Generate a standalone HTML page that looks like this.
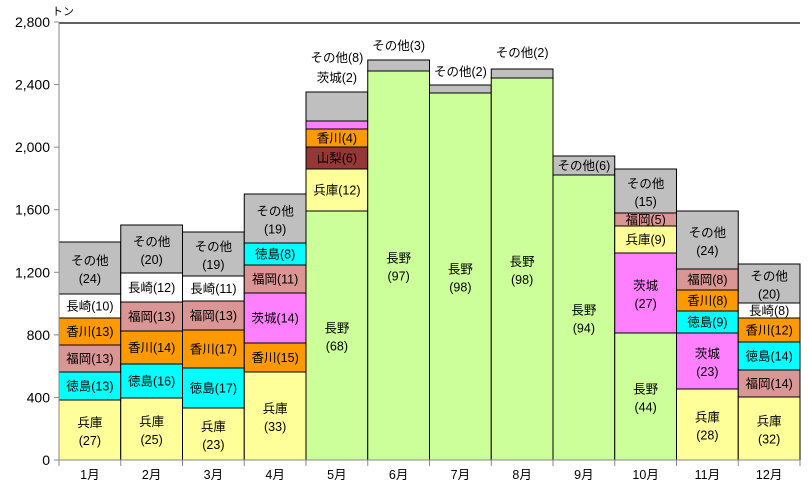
<!DOCTYPE html>
<html><head><meta charset="utf-8">
<style>
body{margin:0;background:#fff}
svg text{font-family:"Liberation Sans","Noto Sans CJK JP",sans-serif;font-size:12.5px;fill:#000}
</style></head>
<body>
<svg id="c" width="808" height="491" xmlns="http://www.w3.org/2000/svg">
<rect width="808" height="491" fill="#fff"/>
</svg>
<script>
const s=document.getElementById('c');const NS='http://www.w3.org/2000/svg';
function el(t,a,txt){const e=document.createElementNS(NS,t);for(const k in a)e.setAttribute(k,a[k]);if(txt!==undefined)e.textContent=txt;s.appendChild(e);return e;}
const C={'兵庫':'#FFFF99','徳島':'#00FFFF','福岡':'#DA9694','香川':'#FF9900','長崎':'#FFFFFF','その他':'#BFBFBF','長野':'#CCFF99','山梨':'#953735','茨城':'#FF80FF'};
const D=[
[['兵庫',27,400,2],['徳島',13,372,1],['福岡',13,345,1],['香川',13,318,1],['長崎',10,294,1],['その他',24,242,2]],
[['兵庫',25,398,2],['徳島',16,364,1],['香川',14,331,1],['福岡',13,302,1],['長崎',12,273,1],['その他',20,225,2]],
[['兵庫',23,408,2],['徳島',17,368,1],['香川',17,330,1],['福岡',13,301,1],['長崎',11,276,1],['その他',19,232,2]],
[['兵庫',33,372,2],['香川',15,343,1],['茨城',14,293,1],['福岡',11,265,1],['徳島',8,243,1],['その他',19,194,2]],
[['長野',68,211,2],['兵庫',12,169,1],['山梨',6,147,1],['香川',4,129,1],['茨城',2,121,0],['その他',8,92,0]],
[['長野',97,71,2],['その他',3,60,0]],
[['長野',98,93,2],['その他',2,85,0]],
[['長野',98,78,2],['その他',2,69,0]],
[['長野',94,175,2],['その他',6,156,1]],
[['長野',44,333,2],['茨城',27,253,2],['兵庫',9,226,1],['福岡',5,213,1],['その他',15,169,2]],
[['兵庫',28,389,2],['茨城',23,333,2],['徳島',9,311,1],['香川',8,290,1],['福岡',8,269,1],['その他',24,211,2]],
[['兵庫',32,397,2],['福岡',14,370,1],['徳島',14,342,1],['香川',12,318,1],['長崎',8,303,1],['その他',20,264,2]]
];
const X0=59,W=61.75,Y0=460;
D.forEach((m,i)=>{
 const x=X0+i*W;let bot=Y0;
 m.forEach(sg=>{
  const [n,p,top,md]=sg;
  el('rect',{x:x,y:top,width:W,height:bot-top,fill:C[n],stroke:'#000','stroke-width':1});
  const cx=x+W/2,cy=(top+bot)/2;
  if(md===1)el('text',{x:cx,y:cy+4.5,'text-anchor':'middle'},n+'('+p+')');
  if(md===2){el('text',{x:cx,y:cy-3,'text-anchor':'middle'},n);el('text',{x:cx,y:cy+15,'text-anchor':'middle'},'('+p+')');}
  bot=top;
 });
 el('text',{x:x+W/2,y:479,'text-anchor':'middle'},(i+1)+'月');
});
const cx=i=>X0+i*W+W/2;
el('text',{x:cx(4),y:62,'text-anchor':'middle'},'その他(8)');
el('text',{x:cx(4),y:82,'text-anchor':'middle'},'茨城(2)');
el('text',{x:cx(5),y:50,'text-anchor':'middle'},'その他(3)');
el('text',{x:cx(6),y:76,'text-anchor':'middle'},'その他(2)');
el('text',{x:cx(7),y:57,'text-anchor':'middle'},'その他(2)');
el('line',{x1:59,y1:23,x2:800,y2:23,stroke:'#000','stroke-width':1.2});
el('line',{x1:59,y1:23,x2:59,y2:460,stroke:'#888','stroke-width':1});
el('line',{x1:59,y1:460,x2:800,y2:460,stroke:'#888','stroke-width':1});
for(let k=0;k<=7;k++){const y=Y0-k*62.57;el('line',{x1:54,y1:y,x2:59,y2:y,stroke:'#888'});
 el('text',{x:50,y:y+5,'text-anchor':'end',style:'font-size:14px'},(k*400).toLocaleString('en-US'));}
for(let i=0;i<=12;i++){const x=X0+i*W;el('line',{x1:x,y1:460,x2:x,y2:466,stroke:'#888'});}
el('text',{x:52,y:15,style:'font-size:11px'},'トン');
</script>
</body></html>
